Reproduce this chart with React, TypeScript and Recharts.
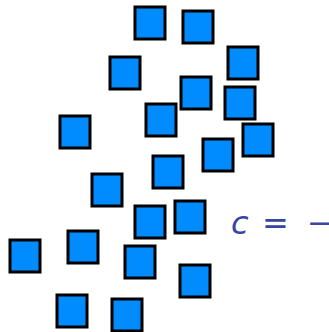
import React from "react";
import { ScatterChart, Scatter, XAxis, YAxis, Customized } from "recharts";

const xs = [150, 198, 125, 243, 196, 240, 161, 75, 258, 218, 168, 107, 150, 190, 25, 83, 140, 195, 72, 127];
const ys = [23, 27, 73, 63, 93, 103, 120, 132, 140, 155, 172, 190, 222, 217, 256, 247, 262, 281, 311, 315];
const labelParts = ["c", "=", "−"];

const points = xs.map((x, i) => ({ x, y: ys[i] }));

const W = 329;
const H = 332;

const Square = (props: any) => {
  const { cx, cy } = props;
  return (
    <rect x={cx - 15} y={cy - 16} width={30} height={32} fill="#008cff" stroke="#000" strokeWidth={3} />
  );
};

const LabelText = () => (
  <text y={234} fill="#3a44a4" fontFamily="DejaVu Sans" fontSize={32}>
    <tspan x={231} fontStyle="italic">{labelParts[0]}</tspan>
    <tspan x={262}>{labelParts[1]}</tspan>
    <tspan x={307}>{labelParts[2]}</tspan>
  </text>
);

export default function App() {
  return (
    <div style={{ position: "absolute", left: 0, top: 0, width: W, height: H, background: "#fff" }}>
      <ScatterChart width={W} height={H} margin={{ top: 0, right: 0, bottom: 0, left: 0 }}>
        <XAxis type="number" dataKey="x" domain={[0, W]} hide />
        <YAxis type="number" dataKey="y" domain={[0, H]} reversed hide />
        <Scatter data={points} shape={Square} isAnimationActive={false} />
        <Customized component={LabelText} />
      </ScatterChart>
    </div>
  );
}
